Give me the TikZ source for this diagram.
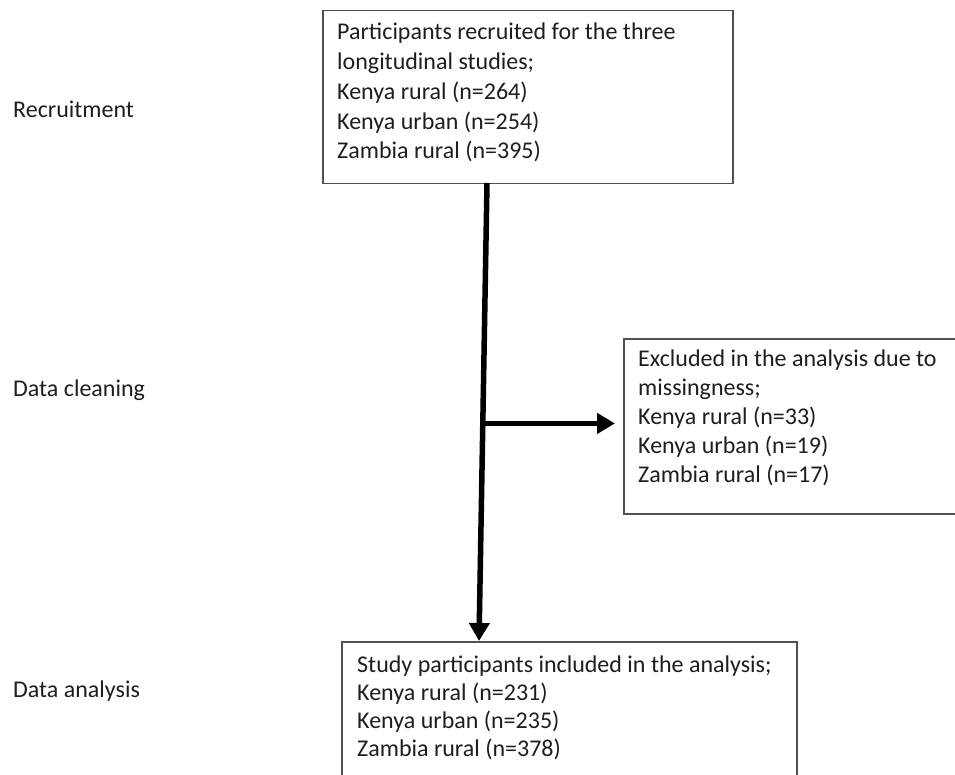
\documentclass[tikz,border=0pt]{standalone}
\usepackage{fontspec}
\setmainfont{Carlito}
\usetikzlibrary{arrows.meta,calc}
\definecolor{txtc}{HTML}{1E1E1E}
\definecolor{boxc}{HTML}{505050}
\begin{document}
\begin{tikzpicture}[x=1pt,y=-1pt,
  boxstyle/.style={draw=boxc,line width=1.5pt,fill=white,rectangle},
  line/.style={font=\fontsize{24}{29}\selectfont,text=txtc,inner sep=0pt,anchor=base west},
  flow/.style={line width=5.5pt,draw=black,-{Triangle[width=20pt,length=18pt]}}]
\useasboundingbox (0,0) rectangle (955,775);
\clip (0,0) rectangle (955,775);
% boxes
\node[boxstyle,inner sep=0pt,minimum width=410pt,minimum height=173pt,anchor=north west] (top) at (322,10) {};
\node[boxstyle,inner sep=0pt,minimum width=360pt,minimum height=175pt,anchor=north west] (mid) at (623,338) {};
\node[boxstyle,inner sep=0pt,minimum width=455pt,minimum height=160pt,anchor=north west] (bot) at (341,641) {};
% left labels
\node[line] (lab1) at (13,118) {Recruitment};
\node[line] (lab2) at (13,396) {Data cleaning};
\node[line] (lab3) at (13,697) {Data analysis};
% top box text
\foreach \t [count=\i] in {Participants recruited for the three,longitudinal studies;,Kenya rural (n=264),Kenya urban (n=254),Zambia rural (n=395)}
  \node[line] (ta\i) at (337,{40+29.7*(\i-1)}) {\t};
% middle box text
\foreach \t [count=\i] in {Excluded in the analysis due to,missingness;,Kenya rural (n=33),Kenya urban (n=19),Zambia rural (n=17)}
  \node[line] (tb\i) at (638,{366+29.2*(\i-1)}) {\t};
% bottom box text
\foreach \t [count=\i] in {Study participants included in the analysis;,Kenya rural (n=231),Kenya urban (n=235),Zambia rural (n=378)}
  \node[line] (tc\i) at (357,{672+28.3*(\i-1)}) {\t};
% connectors
\coordinate (vstart) at (487,183);
\coordinate (vend) at (479,641);
\coordinate (branch) at ($(vstart)!0.525!(vend)$);
\draw[flow] (vstart) -- (vend);
\draw[flow,shorten >=8pt] (branch) -- (branch -| mid.west);
\end{tikzpicture}
\end{document}
